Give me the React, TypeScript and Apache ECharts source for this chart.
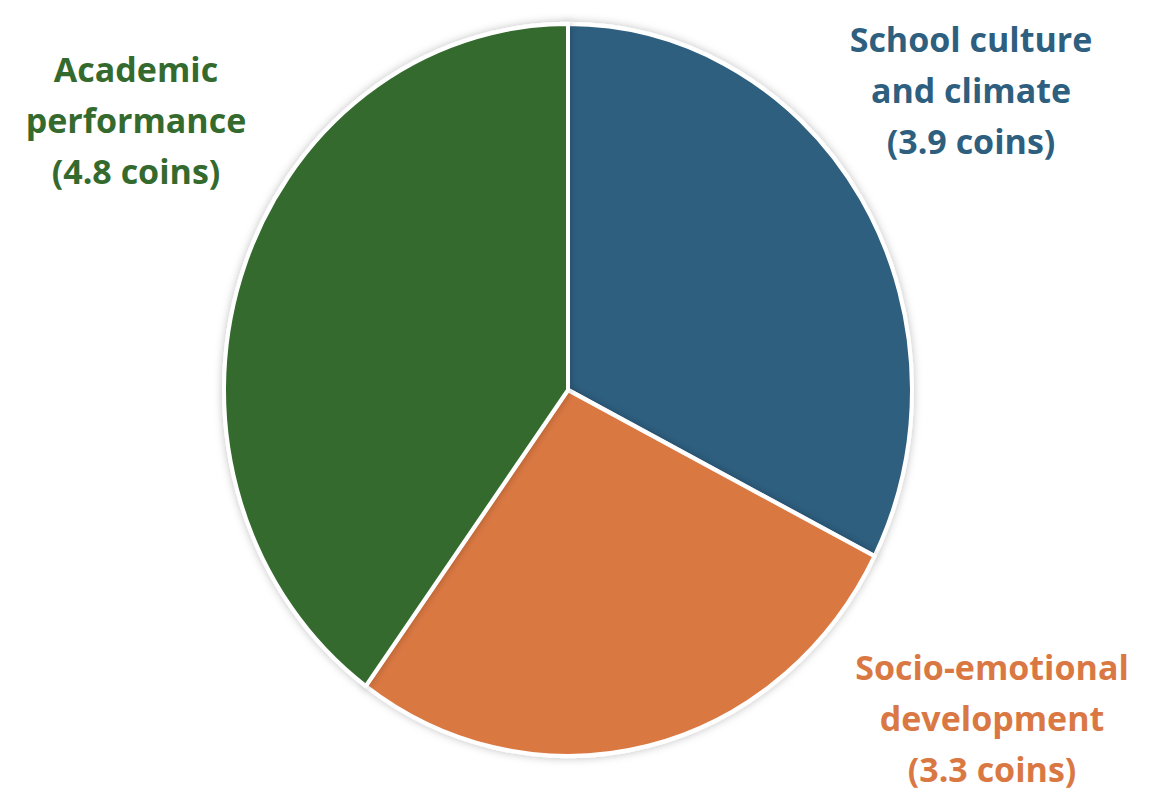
import React, { useEffect, useRef } from "react";
import * as echarts from "echarts";

const categories = ["School culture and climate", "Socio-emotional development", "Academic performance"];
const labelLines = [["School culture", "and climate"], ["Socio-emotional", "development"], ["Academic", "performance"]];
const values = [3.9, 3.3, 4.8];
const colors = ["#2e5f7f", "#da7843", "#356a2e"];

export default function App() {
  const pieRef = useRef<HTMLDivElement>(null);
  const labRef = useRef<HTMLDivElement>(null);

  useEffect(() => {
    document.body.style.margin = "0";
    const pie = echarts.init(pieRef.current!, null, { renderer: "svg" });
    pie.setOption({
      animation: false,
      series: [
        {
          type: "pie",
          center: [568, 390],
          radius: 344,
          startAngle: 90,
          clockwise: true,
          label: { show: false },
          labelLine: { show: false },
          itemStyle: {
            borderColor: "#ffffff",
            borderWidth: 4,
            shadowBlur: 8,
            shadowColor: "rgba(0,0,0,0.25)",
          },
          data: categories.map((c, i) => ({ name: c, value: values[i], itemStyle: { color: colors[i] } })),
        },
      ],
    });

    const lab = echarts.init(labRef.current!, null, { renderer: "svg" });
    const pos = [
      [971, 90],
      [992, 718],
      [136, 120],
    ];
    lab.setOption({
      animation: false,
      graphic: categories.map((c, i) => ({
        type: "text",
        x: pos[i][0],
        y: pos[i][1],
        style: {
          text: `${labelLines[i][0]}\n${labelLines[i][1]}\n(${values[i]} coins)`,
          fill: colors[i],
          font: "bold 34px 'Open Sans', sans-serif",
          lineHeight: 51,
          align: "center",
          verticalAlign: "middle",
        },
      })),
    });
    return () => {
      pie.dispose();
      lab.dispose();
    };
  }, []);

  return (
    <div style={{ position: "relative", width: 1170, height: 796, background: "#fff", overflow: "hidden" }}>
      <div
        ref={pieRef}
        style={{
          position: "absolute",
          left: 0,
          top: 0,
          width: 1170,
          height: 796,
          transform: "scaleY(1.064)",
          transformOrigin: "568px 390px",
        }}
      />
      <div ref={labRef} style={{ position: "absolute", left: 0, top: 0, width: 1170, height: 796 }} />
    </div>
  );
}
